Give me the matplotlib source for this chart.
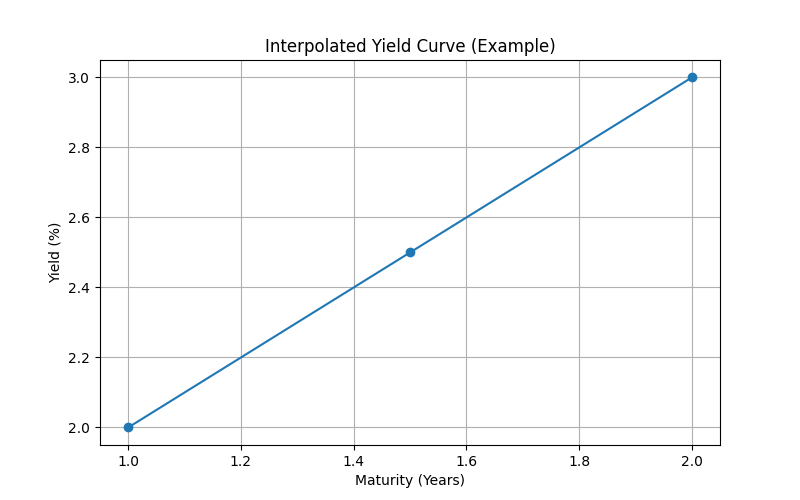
import matplotlib
matplotlib.use("Agg")
import matplotlib.pyplot as plt

maturities = [1.0, 1.5, 2.0]
yields = [2.0, 2.5, 3.0]

fig = plt.figure(figsize=(8, 5), dpi=100)
plt.plot(maturities, yields, marker="o")
plt.xlabel("Maturity (Years)")
plt.ylabel("Yield (%)")
plt.title("Interpolated Yield Curve (Example)")
plt.grid(True)
plt.savefig("out.png")
